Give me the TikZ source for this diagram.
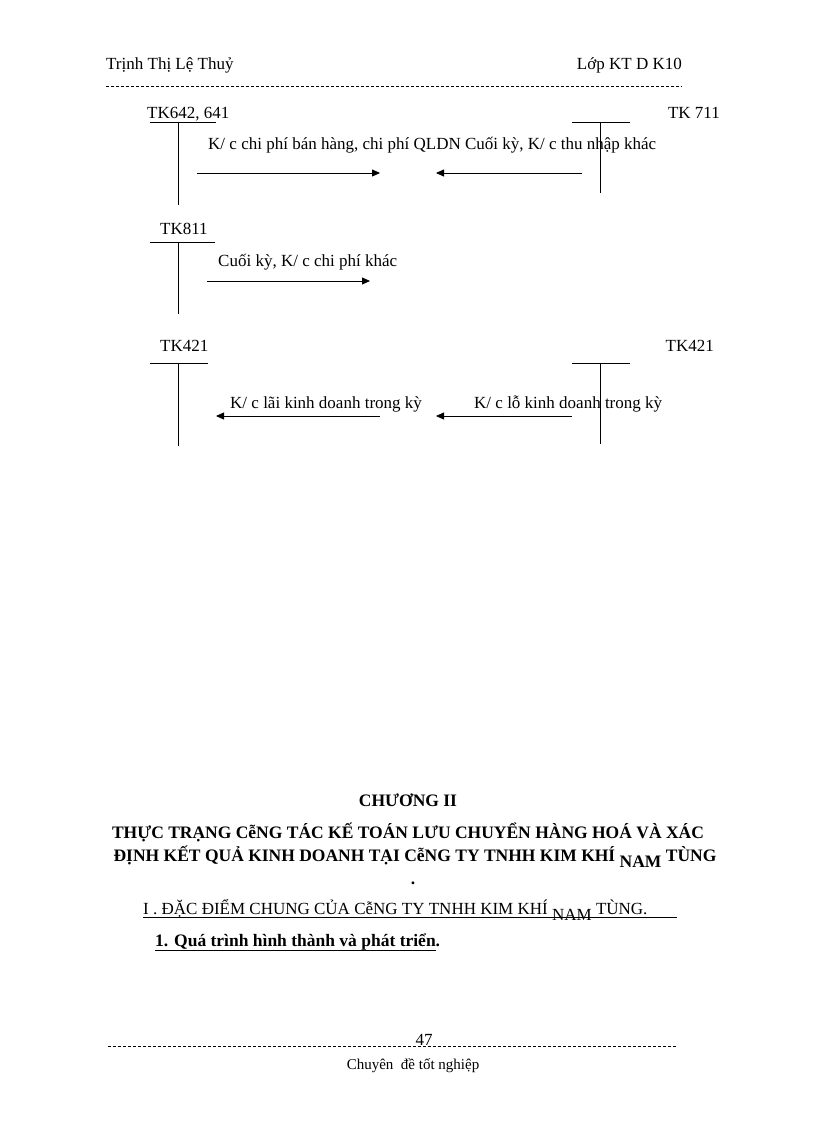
\documentclass[tikz,border=0pt]{standalone}
\usepackage{fontspec}
\setmainfont{Liberation Serif}
\usetikzlibrary{arrows.meta}
\begin{document}
\begin{tikzpicture}[x=1pt,y=-1pt,
  txt/.style={inner sep=0pt,font=\fontsize{17}{20}\selectfont},
  acc/.style={line width=0.8pt},
  arr/.style={line width=0.8pt,-{Triangle[length=8pt,width=7pt]}},
  ttl/.style={inner sep=0pt,font=\fontsize{17.5}{20}\selectfont\bfseries}]
\useasboundingbox (0,0) rectangle (816,1123);
% header
\node[txt,anchor=base west] (hl) at (106,70) {Trịnh Thị Lệ Thuỷ};
\node[txt,anchor=base east] (hr) at (682,70) {Lớp KT D K10};
\draw[dashed,dash pattern=on 3pt off 2pt,line width=0.5pt] (106,86) -- (682,86);
% TK642
\node[txt,anchor=base west] (t1) at (147,119) {TK642, 641};
\draw[acc] (150,122) -- (216,122); \draw[acc] (178,122) -- (178,205);
\node[txt,anchor=base east] (t2) at (720,119) {TK 711};
\draw[acc] (572,122) -- (630,122); \draw[acc] (600,122) -- (600,193);
\node[txt,anchor=base west] (l1) at (208,150) {K/ c chi phí bán hàng, chi phí QLDN Cuối kỳ, K/ c thu nhập khác};
\coordinate (a1) at (197,173); \coordinate (b1) at (380,173);
\coordinate (a2) at (582,173); \coordinate (b2) at (436,173);
\draw[arr] (a1) -- (b1); \draw[arr] (a2) -- (b2);
% TK811
\node[txt,anchor=base west] (t3) at (160,235) {TK811};
\draw[acc] (150,242) -- (215,242); \draw[acc] (178,242) -- (178,314);
\node[txt,anchor=base west] (l2) at (218,266) {Cuối kỳ, K/ c chi phí khác};
\coordinate (a3) at (207,281); \coordinate (b3) at (370,281);
\draw[arr] (a3) -- (b3);
% TK421
\node[txt,anchor=base west] (t4) at (160,351) {TK421};
\draw[acc] (150,363) -- (208,363); \draw[acc] (178,363) -- (178,446);
\node[txt,anchor=base east] (t5) at (714,351) {TK421};
\draw[acc] (572,363) -- (630,363); \draw[acc] (600,363) -- (600,444);
\node[txt,anchor=base west] (l3) at (230,408) {K/ c lãi kinh doanh trong kỳ};
\node[txt,anchor=base west] (l4) at (474,408) {K/ c lỗ kinh doanh trong kỳ};
\coordinate (a4) at (380,416); \coordinate (b4) at (216,416);
\coordinate (a5) at (572,416); \coordinate (b5) at (436,416);
\draw[arr] (a4) -- (b4); \draw[arr] (a5) -- (b5);
% chapter
\node[ttl,anchor=base] (c0) at (408,806) {CHƯƠNG II};
\node[ttl,anchor=base] (c1) at (408,838) {THỰC TRẠNG CễNG TÁC KẾ TOÁN LƯU CHUYỂN HÀNG HOÁ VÀ XÁC};
\node[ttl,anchor=base] (c2) at (415,861) {ĐỊNH KẾT QUẢ KINH DOANH TẠI CễNG TY TNHH KIM KHÍ \raisebox{-6pt}{NAM} TÙNG};
\node[ttl,anchor=base] (c3) at (413,884) {.};
\node[txt,anchor=base west] (s1) at (143,914) {I . ĐẶC ĐIỂM CHUNG CỦA CễNG TY TNHH KIM KHÍ \raisebox{-6pt}{NAM} TÙNG.};
\draw[line width=0.6pt] (143,917) -- (677,917);
\node[ttl,anchor=base west] (s2) at (155,946) {1. Quá trình hình thành và phát triển.};
\draw[line width=1pt] (155,950) -- (436,950);
% footer
\draw[dashed,dash pattern=on 3pt off 2pt,line width=0.5pt] (108,1046) -- (676,1046);
\node[txt,anchor=base,fill=white,inner xsep=1pt] (pg) at (424,1045) {47};
\node[txt,anchor=base,font=\fontsize{15}{18}\selectfont] (ft) at (413,1069) {Chuyên\ \ đề tốt nghiệp};
\end{tikzpicture}
\end{document}
